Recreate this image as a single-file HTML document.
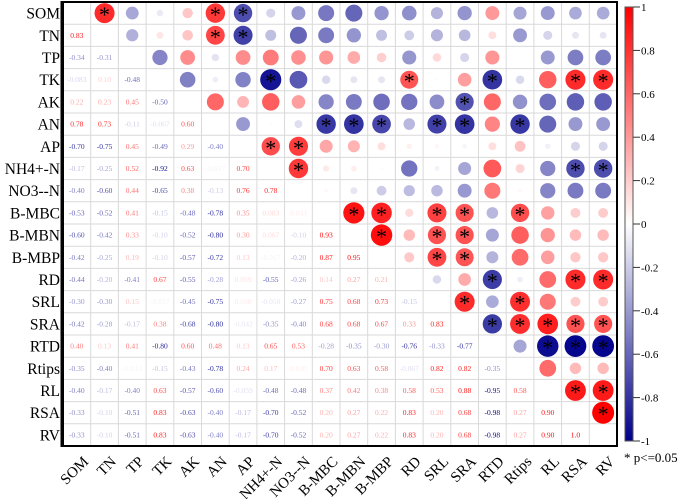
<!DOCTYPE html>
<html><head><meta charset="utf-8"><style>
html,body{margin:0;padding:0;background:#fff;width:685px;height:499px;overflow:hidden}
svg{display:block}
svg text{font-family:"Liberation Serif","Times New Roman",serif}
</style></head><body>
<svg id="chart" width="685" height="499"></svg>
<script>
const labels=["SOM","TN","TP","TK","AK","AN","AP","NH4+-N","NO3--N","B-MBC","B-MBN","B-MBP","RD","SRL","SRA","RTD","Rtips","RL","RSA","RV"];
const rowTN=[0.83];
const rowTP=[-0.34,-0.31];
const rowTK=[-0.083,0.10,-0.48];
const rowAK=[0.22,0.23,0.45,-0.50];
const rowAN=[0.78,0.73,-0.11,-0.067,0.60];
const rowAP=[-0.70,-0.75,0.45,-0.49,0.29,-0.40];
const rowNH4=[-0.17,-0.25,0.52,-0.92,0.63,-0.017,0.70];
const rowNO3=[-0.40,-0.60,0.44,-0.65,0.38,-0.13,0.76,0.78];
const rowMBC=[-0.53,-0.52,0.41,-0.15,-0.48,-0.78,0.35,0.083,0.033];
const rowMBN=[-0.60,-0.42,0.33,-0.10,-0.52,-0.80,0.30,0.067,-0.10,0.93];
const rowMBP=[-0.42,-0.25,0.19,-0.10,-0.57,-0.72,0.13,-0.017,-0.20,0.87,0.95];
const rowRD=[-0.44,-0.20,-0.41,0.67,-0.55,-0.28,0.059,-0.55,-0.26,0.14,0.27,0.21];
const rowSRL=[-0.30,-0.30,0.15,-0.017,-0.45,-0.75,0.038,-0.050,-0.27,0.75,0.68,0.73,-0.15];
const rowSRA=[-0.42,-0.28,-0.17,0.38,-0.68,-0.80,-0.042,-0.35,-0.40,0.68,0.68,0.67,0.33,0.83];
const rowRTD=[0.40,0.13,0.41,-0.80,0.60,0.48,0.13,0.65,0.53,-0.28,-0.35,-0.30,-0.76,-0.33,-0.77];
const rowRtips=[-0.35,-0.40,-0.013,-0.15,-0.43,-0.78,0.24,0.17,0.030,0.70,0.63,0.58,-0.067,0.82,0.82,-0.35];
const rowRL=[-0.40,-0.17,-0.40,0.63,-0.57,-0.60,-0.059,-0.48,-0.48,0.37,0.42,0.38,0.58,0.53,0.88,-0.95,0.58];
const rowRSA=[-0.33,-0.10,-0.51,0.83,-0.63,-0.40,-0.17,-0.70,-0.52,0.20,0.27,0.22,0.83,0.20,0.68,-0.98,0.27,0.90];
const rowRV=[-0.33,-0.10,-0.51,0.83,-0.63,-0.40,-0.17,-0.70,-0.52,0.20,0.27,0.22,0.83,0.20,0.68,-0.98,0.27,0.90,1.0];
const lowerRows=[[],rowTN,rowTP,rowTK,rowAK,rowAN,rowAP,rowNH4,rowNO3,rowMBC,rowMBN,rowMBP,rowRD,rowSRL,rowSRA,rowRTD,rowRtips,rowRL,rowRSA,rowRV];
const sigThreshold=0.66;
const cbTicks=[1,0.8,0.6,0.4,0.2,0,-0.2,-0.4,-0.6,-0.8,-1];

const NS="http://www.w3.org/2000/svg";
const svg=document.getElementById('chart');
const X0=63,X1=617,Y0=2,Y1=446,N=labels.length;
const cw=(X1-X0)/N,ch=(Y1-Y0)/N;
const cx=i=>X0+cw*(i+0.5), cy=i=>Y0+ch*(i+0.5);
function mk(t,a,p){const e=document.createElementNS(NS,t);for(const k in a)e.setAttribute(k,a[k]);(p||svg).appendChild(e);return e;}
function col(v,t){t=Math.max(0,Math.min(1,t));
  const tgt=v>=0?[255,0,0]:[0,0,139];
  return `rgb(${Math.round(255+(tgt[0]-255)*t)},${Math.round(255+(tgt[1]-255)*t)},${Math.round(255+(tgt[2]-255)*t)})`;}
function val(i,j){return i>j?lowerRows[i][j]:lowerRows[j][i];}
function fmt(v){if(v===1)return "1.0";return Math.abs(v)<0.1?v.toFixed(3):v.toFixed(2);}

const grid=mk('g',{});


for(let i=1;i<N;i++){
  mk('line',{x1:X0+cw*i,x2:X0+cw*i,y1:Y0,y2:Y1,stroke:'#d9d9d9','stroke-width':1},grid);
  mk('line',{x1:X0,x2:X1,y1:Y0+ch*i,y2:Y0+ch*i,stroke:'#d9d9d9','stroke-width':1},grid);
}
for(let i=0;i<N;i++){for(let j=0;j<N;j++){
  if(i===j)continue;
  const v=val(i,j);
  if(i>j){
    const t=mk('text',{x:cx(j),y:cy(i)+2.5,'text-anchor':'middle','font-size':7.5,fill:col(v,Math.pow(Math.abs(v),0.75))});
    t.textContent=fmt(v);
    
    
  }else{
    const c=mk('circle',{cx:cx(j),cy:cy(i),r:11*Math.sqrt(Math.abs(v)),fill:col(v,Math.abs(v))});
    
    
    if(Math.abs(v)>=sigThreshold){
      const s=mk('text',{x:cx(j),y:cy(i)+9,'text-anchor':'middle','font-size':22,fill:'#000'});
      s.textContent='*';
      
      
    }
  }
}}
const b=mk('rect',{x:X0,y:Y0,width:X1-X0,height:Y1-Y0,fill:'none',stroke:'#000','stroke-width':2});


const ax=mk('line',{x1:X0-1,x2:X0-1,y1:Y0-1,y2:Y1+1,stroke:'#000','stroke-width':3});


for(let i=0;i<N;i++){
  const t=mk('text',{x:X0-3,y:cy(i)+5.5,'text-anchor':'end','font-size':15.5});
  t.textContent=labels[i];
  
  
  const x=cx(i)+5,y=Y1+9;
  const u=mk('text',{x:x,y:y,'text-anchor':'end','font-size':15,transform:`rotate(-45 ${x} ${y})`,dy:'0.7em'});
  u.textContent=labels[i];
  
  
}
const CB0=7,CB1=441,CBX=625,CBW=8;
const defs=mk('defs',{});
const lg=mk('linearGradient',{id:'cbg',x1:0,y1:0,x2:0,y2:1},defs);
mk('stop',{offset:'0',  'stop-color':'#ff0000'},lg);
mk('stop',{offset:'0.5','stop-color':'#ffffff'},lg);
mk('stop',{offset:'1',  'stop-color':'#00008b'},lg);
const cb=mk('rect',{x:CBX,y:CB0,width:CBW,height:CB1-CB0,fill:'url(#cbg)',stroke:'#555','stroke-width':1});


const cbY=v=>CB0+(1-v)/2*(CB1-CB0);
cbTicks.forEach(v=>{
  mk('line',{x1:CBX+CBW,x2:CBX+CBW+7,y1:cbY(v),y2:cbY(v),stroke:'#333','stroke-width':1});
  const t=mk('text',{x:CBX+CBW+8,y:cbY(v)+4,'font-size':11});
  t.textContent=(v===1||v===-1||v===0)?String(v):v.toFixed(1);
  
  
});
const note=mk('text',{x:624,y:462,'font-size':13});
note.textContent='* p<=0.05';


</script>
</body></html>
